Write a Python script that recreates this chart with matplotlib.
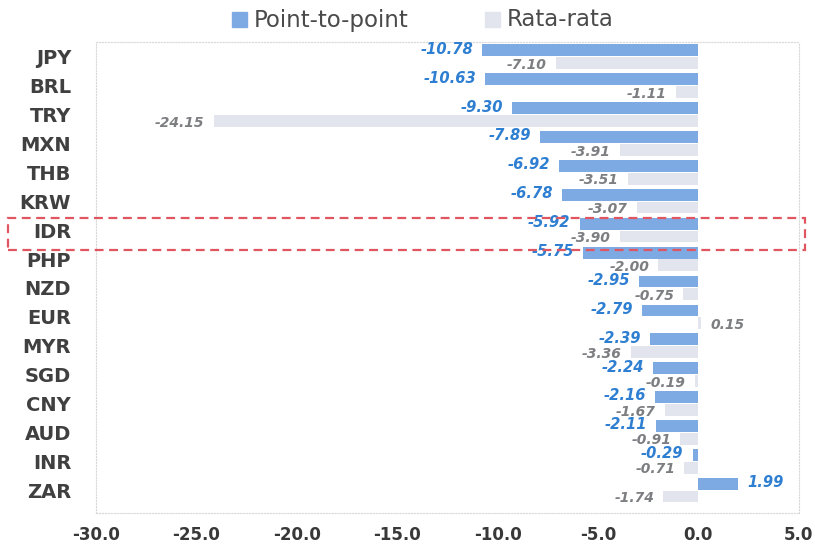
import matplotlib.pyplot as plt
import numpy as np
from matplotlib.patches import Rectangle

plt.rcParams["font.family"] = ["DejaVu Sans"]

currencies = ["JPY", "BRL", "TRY", "MXN", "THB", "KRW", "IDR", "PHP",
              "NZD", "EUR", "MYR", "SGD", "CNY", "AUD", "INR", "ZAR"]
point_to_point = [-10.78, -10.63, -9.30, -7.89, -6.92, -6.78, -5.92, -5.75,
                  -2.95, -2.79, -2.39, -2.24, -2.16, -2.11, -0.29, 1.99]
rata_rata = [-7.10, -1.11, -24.15, -3.91, -3.51, -3.07, -3.90, -2.00,
             -0.75, 0.15, -3.36, -0.19, -1.67, -0.91, -0.71, -1.74]
x_ticks = [-30, -25, -20, -15, -10, -5, 0, 5]

BLUE = "#7eaae4"
GREY = "#e2e5ee"
BLUE_TXT = "#2e7fd1"
GREY_TXT = "#7d7e82"

fig = plt.figure(figsize=(8.15, 5.49), dpi=100)
ax = fig.add_axes([0.118, 0.065, 0.862, 0.858])

y = np.arange(len(currencies))
h = 0.41
off = 0.22
ax.barh(y - off, point_to_point, height=h, color=BLUE)
ax.barh(y + off, rata_rata, height=h, color=GREY)


def put_label(v, yy, color, size):
    gap = 0.45
    if v < 0:
        x, ha = v - gap, "right"
    else:
        x, ha = v + gap, "left"
    ax.text(x, yy, f"{v:.2f}", ha=ha, va="center", color=color,
            fontsize=size, fontweight="bold", style="italic")


for yy, v in zip(y, point_to_point):
    put_label(v, yy - off - 0.04, BLUE_TXT, 10.6)
for yy, v in zip(y, rata_rata):
    put_label(v, yy + off + 0.06, GREY_TXT, 10)

ax.set_xlim(-30, 5)
ax.set_ylim(15.8, -0.5)
ax.set_xticks(x_ticks)
ax.set_xticklabels([f"{t:.1f}" for t in x_ticks], fontsize=12,
                   fontweight="bold", color="#383838")
ax.set_yticks(y)
ax.set_yticklabels(currencies, fontsize=14, fontweight="bold", color="#404040")
ax.tick_params(axis="y", length=0, pad=18)
ax.tick_params(axis="x", length=0, pad=9)
for s in ax.spines.values():
    s.set_color("#d8d8d8")
    s.set_linestyle(":")
    s.set_linewidth(0.8)

# legend: colour squares with series names above the plot
W, H = 815.0, 549.0
for px, color, name in [(232, BLUE, "Point-to-point"), (485, GREY, "Rata-rata")]:
    fig.patches.append(Rectangle((px / W, 1 - 27 / H), 15 / W, 15 / H,
                                 transform=fig.transFigure, color=color))
    fig.text((px + 22) / W, 1 - 20 / H, name, ha="left", va="center",
             fontsize=16.5, color="#4a4a4a")

# highlight box around the IDR row
fig.patches.append(Rectangle((8 / W, 1 - 250 / H), 797 / W, 32 / H,
                             transform=fig.transFigure, fill=False,
                             edgecolor="#e0555f", linestyle=(0, (4, 2.5)),
                             linewidth=1.6))

fig.savefig("out.png", dpi=100, facecolor="white")
